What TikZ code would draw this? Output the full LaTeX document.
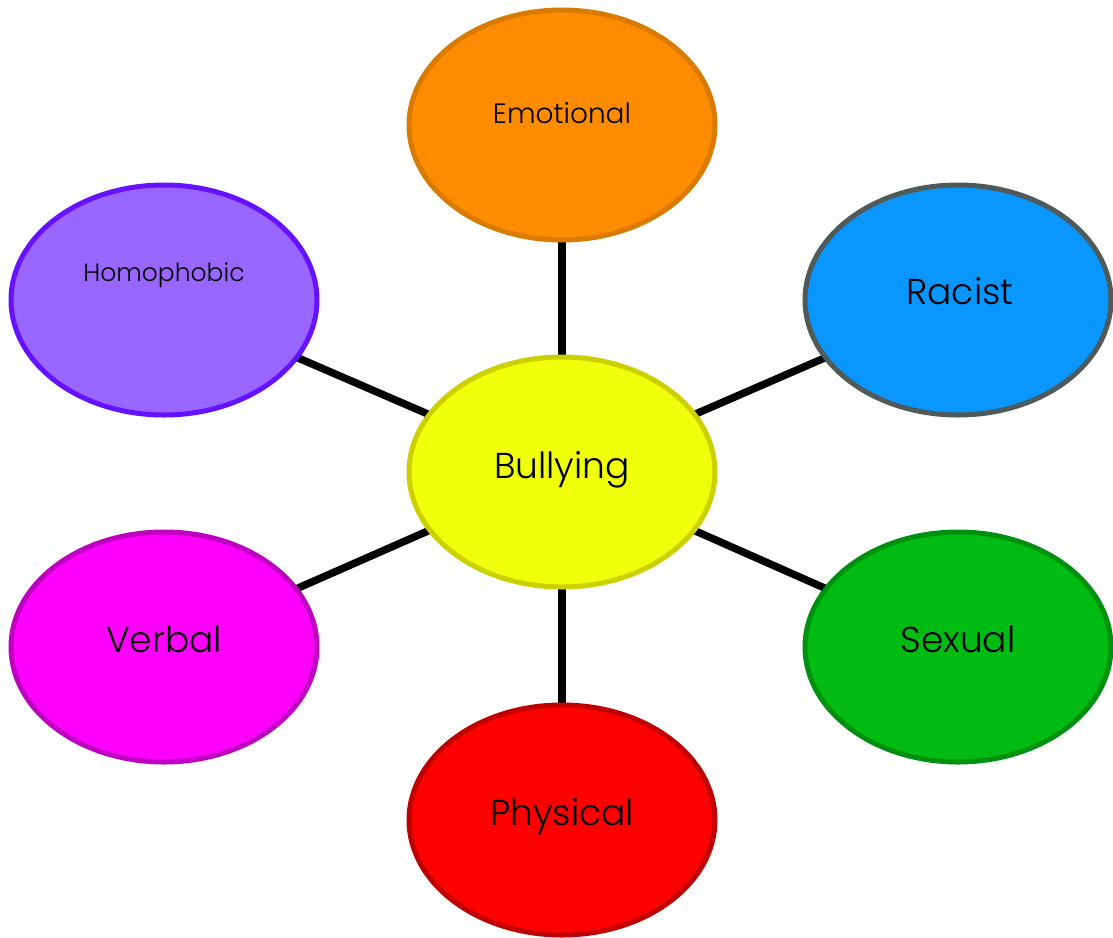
\documentclass[tikz,border=0pt]{standalone}
\usepackage{fontspec}
\setmainfont{Poppins Light}
\usetikzlibrary{shapes.geometric,backgrounds}
\definecolor{emoF}{HTML}{FF8C00}\definecolor{emoD}{HTML}{D97B00}
\definecolor{homF}{HTML}{9966FF}\definecolor{homD}{HTML}{6611FF}
\definecolor{racF}{HTML}{0A96FF}\definecolor{racD}{HTML}{4F5B5B}
\definecolor{bulF}{HTML}{F0FF0A}\definecolor{bulD}{HTML}{CCD000}
\definecolor{verF}{HTML}{FF00FF}\definecolor{verD}{HTML}{C000C0}
\definecolor{sexF}{HTML}{00BB11}\definecolor{sexD}{HTML}{009010}
\definecolor{phyF}{HTML}{FF0000}\definecolor{phyD}{HTML}{C00000}
\tikzset{
  bubble/.style={ellipse, minimum width=306pt, minimum height=230pt, inner sep=0pt, line width=5pt},
  lbl/.style={anchor=base, inner sep=0pt, font=\fontsize{36}{40}\selectfont},
  lblsmall/.style={anchor=base, inner sep=0pt, font=\fontsize{28}{32}\selectfont},
  lbltiny/.style={anchor=base, inner sep=0pt, font=\fontsize{25}{28}\selectfont},
  link/.style={line width=7.5pt, black}
}
\begin{document}
\begin{tikzpicture}[x=1pt,y=-1pt]
\useasboundingbox (0,0) rectangle (1113,937);
\node[bubble, draw=bulD, fill=bulF] (bul) at (562,472) {};
\node[bubble, draw=emoD, fill=emoF] (emo) at (562,125) {};
\node[bubble, draw=homD, fill=homF] (hom) at (164,300) {};
\node[bubble, draw=racD, fill=racF] (rac) at (958,300) {};
\node[bubble, draw=verD, fill=verF] (ver) at (164,647) {};
\node[bubble, draw=sexD, fill=sexF] (sex) at (958,647) {};
\node[bubble, draw=phyD, fill=phyF] (phy) at (562,820) {};
\begin{scope}[on background layer]
\foreach \n in {emo,hom,rac,ver,sex,phy}
  \draw[link] (bul.center) -- (\n.center);
\end{scope}
\node[lbl] (tbul) at (562,478) {Bullying};
\node[lblsmall] (temo) at (562,123) {Emotional};
\node[lbltiny] (thom) at (164,281) {Homophobic};
\node[lbl] (trac) at (960,304) {Racist};
\node[lbl] (tver) at (164,652) {Verbal};
\node[lbl] (tsex) at (958,652) {Sexual};
\node[lbl] (tphy) at (562,825) {Physical};
\end{tikzpicture}
\end{document}
